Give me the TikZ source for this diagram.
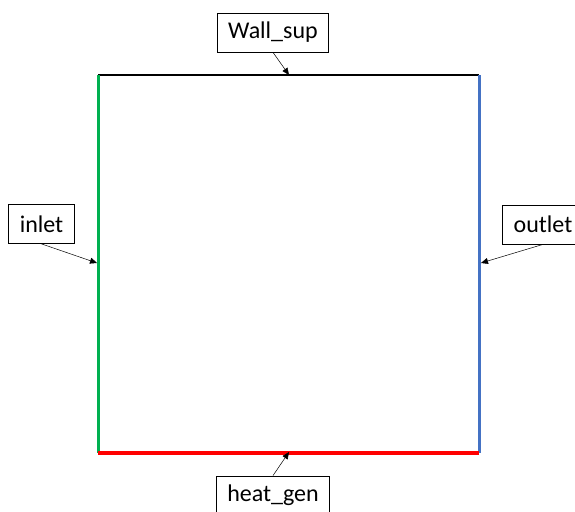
\documentclass[tikz,border=0pt]{standalone}
\usepackage{fontspec}
\setmainfont{Carlito}
\usetikzlibrary{arrows.meta,positioning,calc}
\definecolor{inletgreen}{RGB}{0,176,80}
\definecolor{outletblue}{RGB}{68,114,196}
\definecolor{heatred}{RGB}{255,0,0}

\begin{document}
\begin{tikzpicture}[x=1pt,y=-1pt,>={Triangle[length=7pt,width=6pt]},
    label/.style={draw,line width=0.8pt,fill=white,inner xsep=11pt,minimum height=39pt,font=\fontsize{24}{28}\selectfont},
    pointer/.style={->,line width=0.5pt}]
	\useasboundingbox (0,0) rectangle (575,511);
	% corners of the domain
	\coordinate (nw) at (98,75);
	\coordinate (ne) at (479,75);
	\coordinate (sw) at (98,453);
	\coordinate (se) at (479,453);
	% boundaries
	\draw [line width=2pt] (nw) -- (ne);
	\draw [line width=3pt,inletgreen] (nw) -- (sw);
	\draw [line width=3pt,outletblue] (ne) -- (se);
	\draw [line width=4pt,heatred] (sw) -- (se);
	% labels
	\node (wallsup) [label] at (273,32.5) {Wall\_sup};
	\node (inlet) [label] at (41.5,224) {inlet};
	\node (outlet) [label] at (543,224.5) {outlet};
	\node (heatgen) [label] at (273,495.5) {heat\_gen};
	\coordinate (topmark) at (289,75);
	\coordinate (leftmark) at (97,263);
	\coordinate (rightmark) at (481,263);
	\coordinate (bottommark) at (289,452);
	\draw [pointer] (wallsup.south) to (topmark);
	\draw [pointer] (inlet.south) to (leftmark);
	\draw [pointer] (outlet.south) to (rightmark);
	\draw [pointer] (heatgen.north) to (bottommark);
\end{tikzpicture}
\end{document}
